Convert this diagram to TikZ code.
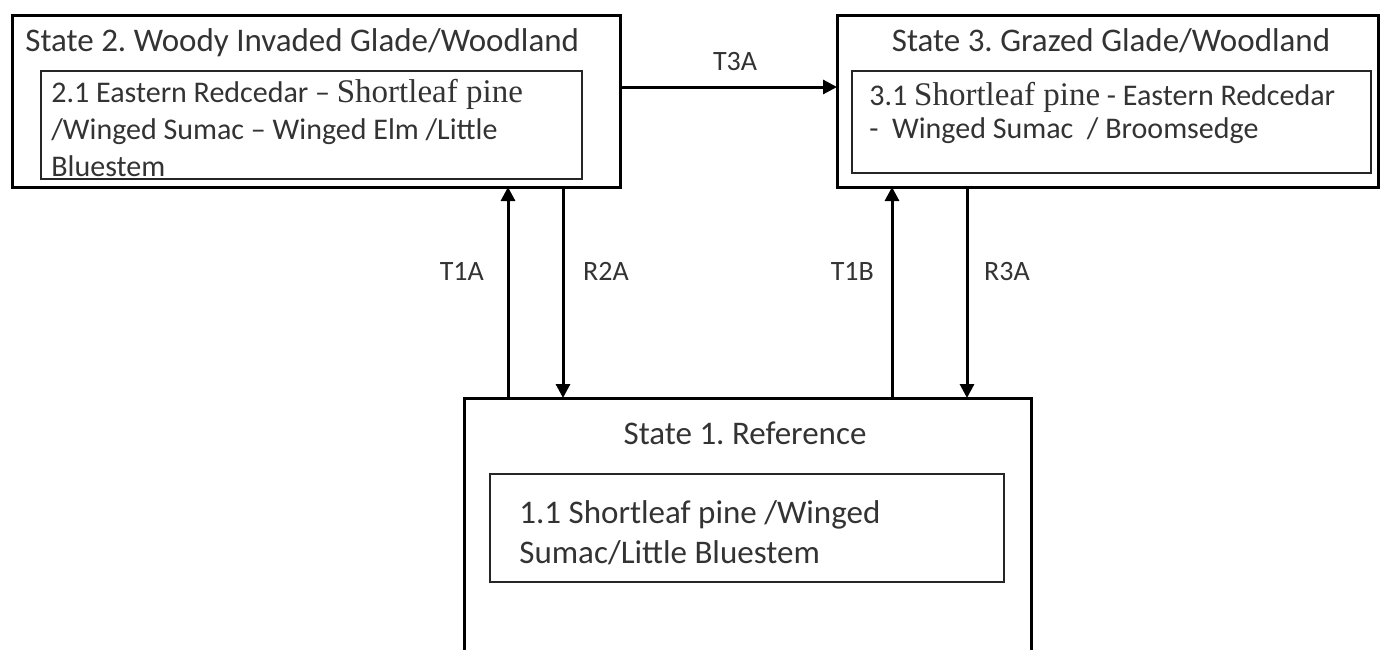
\documentclass[tikz,border=0pt]{standalone}
\usepackage{fontspec}
\setmainfont{Carlito}
\newfontfamily\pinefont{Liberation Serif}
\usetikzlibrary{arrows.meta,positioning}
\frenchspacing
\tikzset{
  stbox/.style={rectangle, draw=black, line width=1.5pt, anchor=north west, inner sep=0pt, outer sep=0pt},
  phbox/.style={rectangle, draw=black!85, line width=1pt, anchor=north west, inner sep=0pt, outer sep=0pt},
  sttitle/.style={inner sep=0pt, text=black!80, font=\fontsize{16.5}{20}\selectfont},
  phtext/.style={inner sep=0pt, anchor=north west, align=left, text=black!80},
  lab/.style={text=black!80, font=\fontsize{14}{16}\selectfont},
  arr/.style={-{Triangle[length=7pt,width=7pt]}, draw=black, line width=1.5pt},
}
\newcommand{\pine}{{\pinefont\fontsize{16.5}{18}\selectfont Shortleaf pine}}

\begin{document}
\begin{tikzpicture}[x=0.5pt, y=-0.5pt]
\useasboundingbox (0,0) rectangle (1380,649);
% states
\node[stbox, minimum width=304pt, minimum height=86pt] (s2) at (12,15) {};
\node[stbox, minimum width=270.5pt, minimum height=86pt] (s3) at (837,15) {};
\node[stbox, minimum width=283.5pt, minimum height=160pt] (s1) at (464,398) {};
% community phases
\node[phbox, minimum width=270.5pt, minimum height=54pt] (p2) at (41,71) {};
\node[phbox, minimum width=259.5pt, minimum height=51pt] (p3) at (852,71) {};
\node[phbox, minimum width=257pt, minimum height=54pt] (p1) at (490,474) {};
% titles
\node[sttitle, anchor=base west] (s2t) at (25,51) {State 2. Woody Invaded Glade/Woodland};
\node[sttitle, anchor=base] (s3t) at (1111,51) {State 3. Grazed Glade/Woodland};
\node[sttitle, anchor=base] (s1t) at (745,444) {State 1. Reference};
% phase texts
\node[phtext, font=\fontsize{15}{18.5}\selectfont] (p2t) at (51,79)
  {2.1 Eastern Redcedar – \pine\\/Winged Sumac – Winged Elm /Little\\Bluestem};
\node[phtext, font=\fontsize{15}{16.5}\selectfont] (p3t) at (869,82)
  {3.1 \pine\ - Eastern Redcedar\\-~~Winged Sumac~~/ Broomsedge};
\node[phtext, font=\fontsize{16.5}{20}\selectfont] (p1t) at (519,500)
  {1.1 Shortleaf pine /Winged\\Sumac/Little Bluestem};
% transitions
\draw[arr] ([yshift=7pt]s2.east) -- ([yshift=7pt]s2.east -| s3.west) node[lab, pos=0.53, above=4pt] (t3a) {T3A};
\draw[arr] ([xshift=22pt]s1.north west) -- ([xshift=22pt]s1.north west |- s2.south) node[lab, pos=0.6, left=8pt] (t1a) {T1A};
\draw[arr] ([xshift=49.5pt]s1.north west |- s2.south) -- ([xshift=49.5pt]s1.north west) node[lab, pos=0.4, right=6pt] (r2a) {R2A};
\draw[arr] ([xshift=214pt]s1.north west) -- ([xshift=214pt]s1.north west |- s3.south) node[lab, pos=0.6, left=5pt] (t1b) {T1B};
\draw[arr] ([xshift=251.5pt]s1.north west |- s3.south) -- ([xshift=251.5pt]s1.north west) node[lab, pos=0.4, right=4.5pt] (r3a) {R3A};
\end{tikzpicture}
\end{document}
